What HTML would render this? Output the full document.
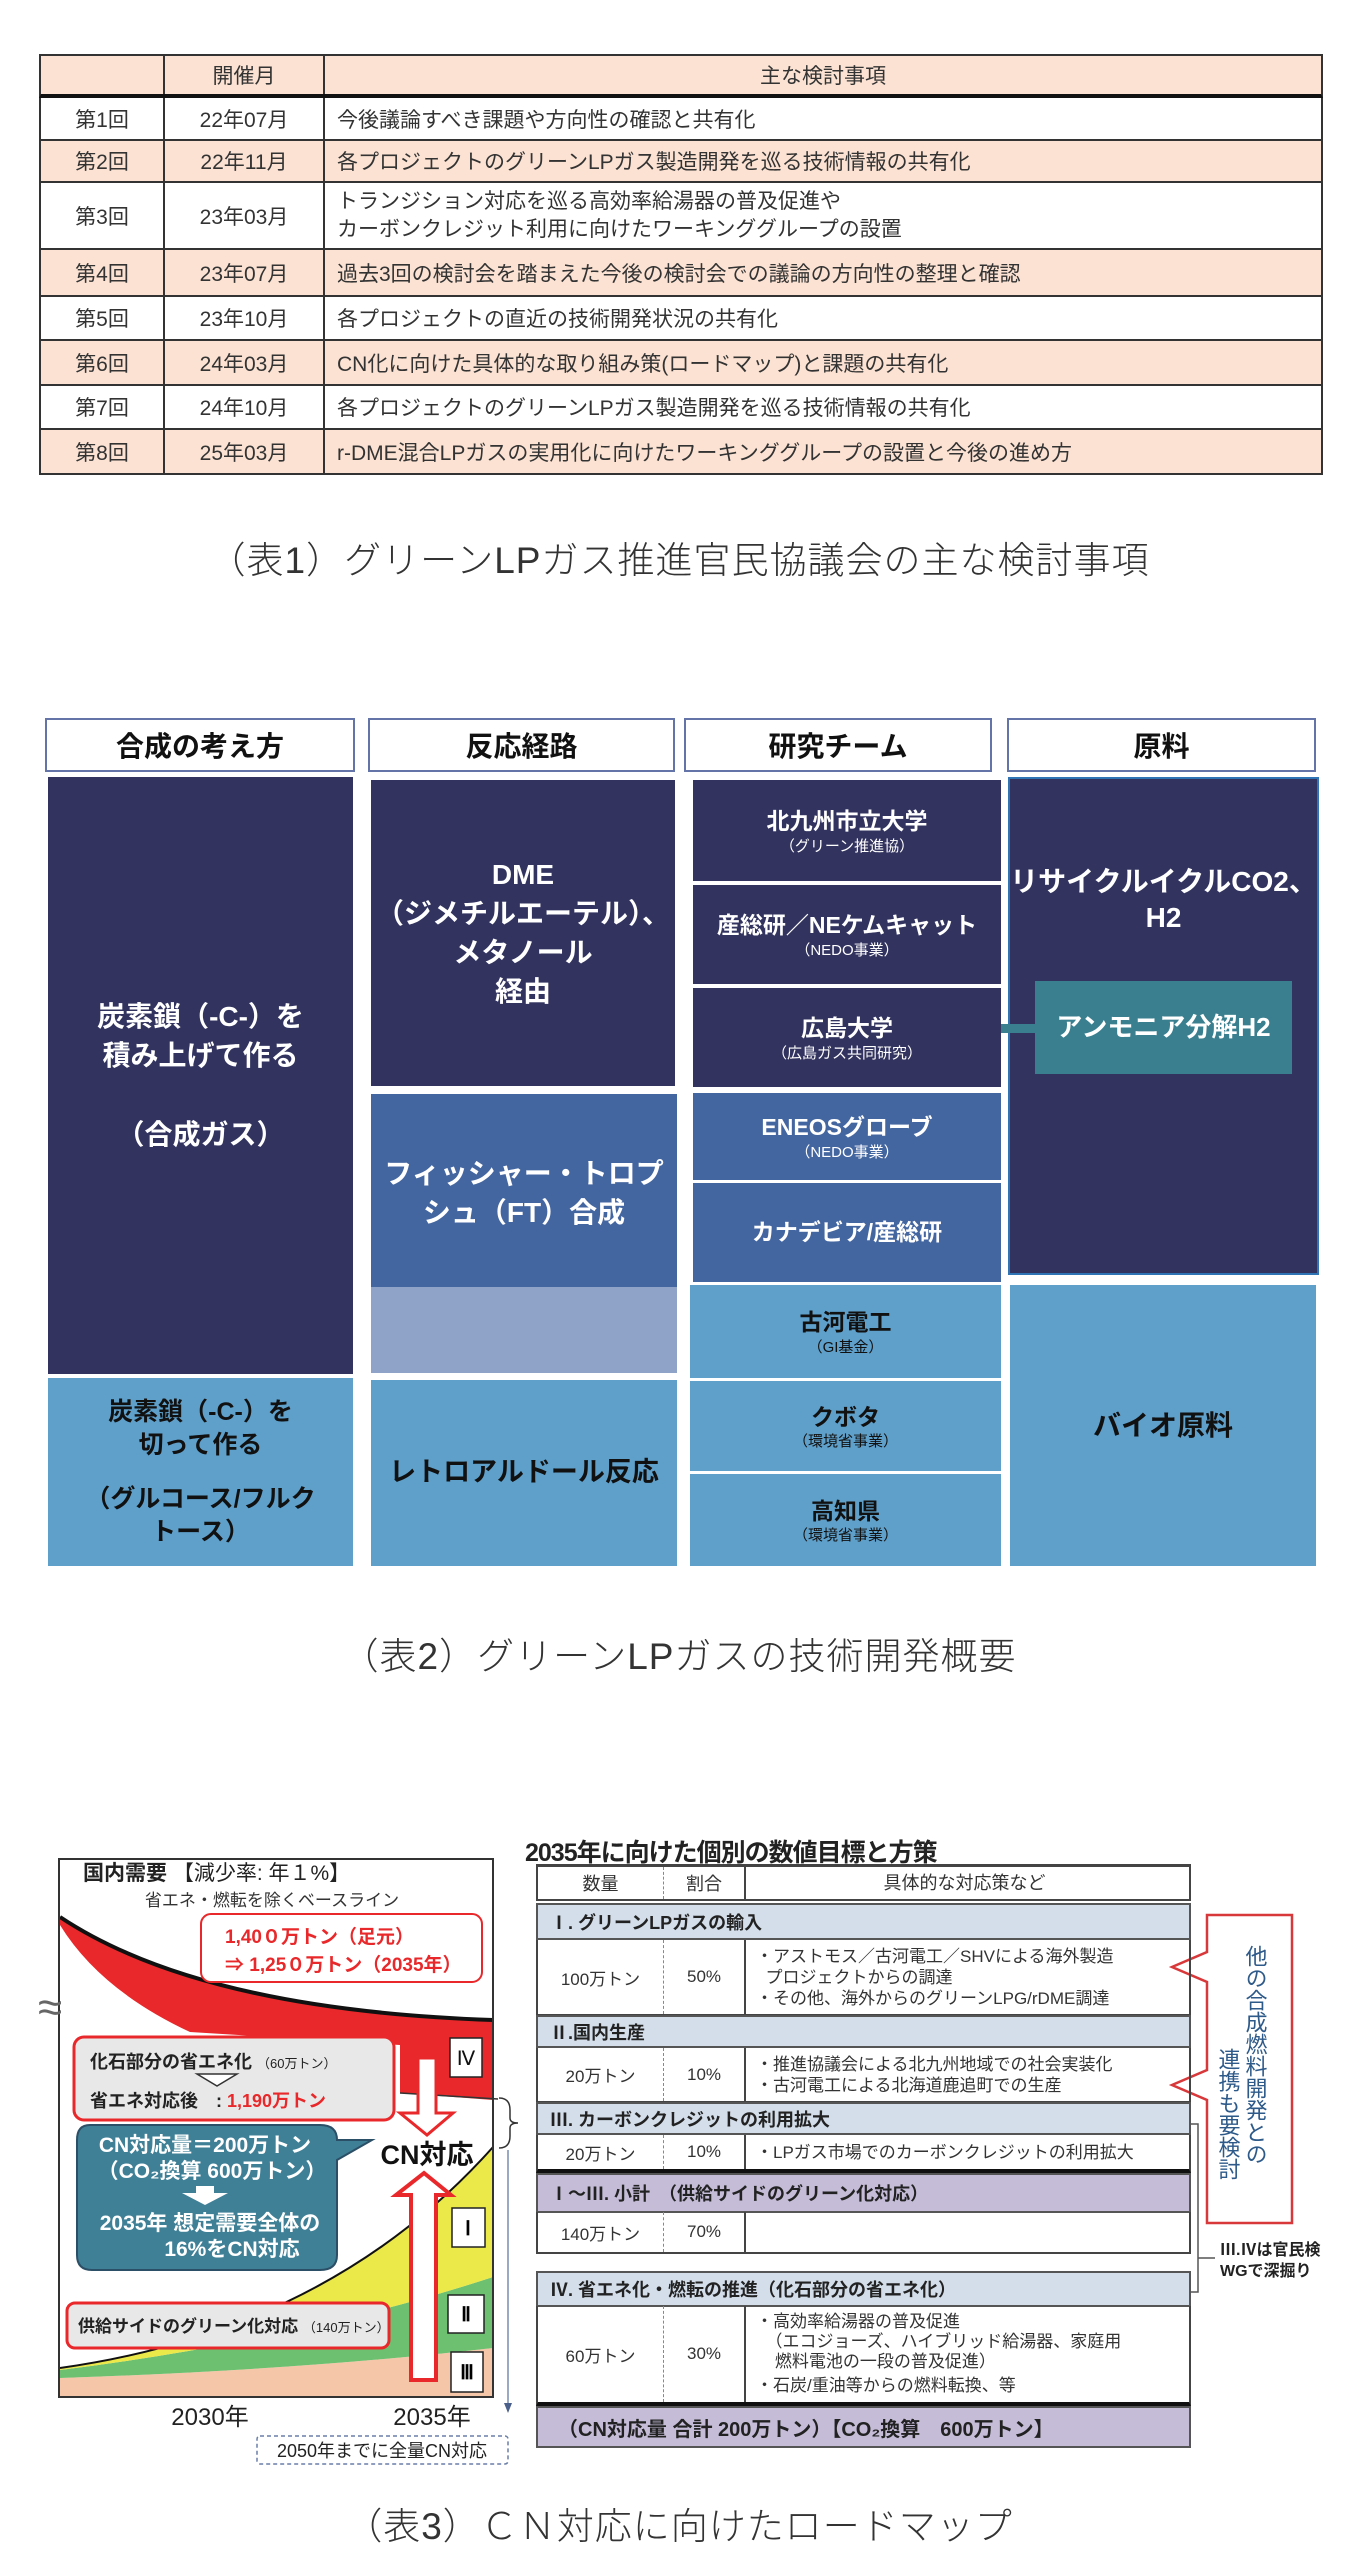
<!DOCTYPE html>
<html><head><meta charset="utf-8">
<style>
*{margin:0;padding:0;box-sizing:border-box}
body{width:1358px;height:2560px;background:#fff;position:relative;font-family:"Liberation Sans","Noto Sans CJK JP",sans-serif;color:#222;overflow:hidden}
.a{position:absolute}
.t1{position:absolute;left:39px;width:1284px;border-left:2px solid #333;border-right:2px solid #333;border-bottom:2px solid #333;font-size:21px;color:#333}
.t1 div{position:absolute;top:0;bottom:0;display:flex;align-items:center}
.cap{position:absolute;left:0;width:1358px;text-align:center;font-size:37px;color:#333;font-weight:300;letter-spacing:1px}
.h2{position:absolute;top:718px;height:54px;border:2px solid #6474a8;background:#fff;font-weight:bold;font-size:28px;display:flex;align-items:center;justify-content:center;color:#111}
.nv{background:#32335f;color:#fff}
.md{background:#4466a0;color:#fff}
.lb{background:#5fa0cb;color:#111}
.b{font-weight:bold}
.box{position:absolute;display:flex;flex-direction:column;align-items:center;justify-content:center;text-align:center;font-weight:bold;line-height:1.4}
.sm{font-size:15px;font-weight:normal;line-height:1.2}
.r3{position:absolute;left:536px;width:655px;border-left:2px solid #444;border-right:2px solid #444;border-bottom:2px solid #444;font-size:17px;color:#333}
.r3 .q{position:absolute;left:0;width:126px;top:0;bottom:0;display:flex;align-items:center;justify-content:center;border-right:1px dashed #888}
.r3 .p{position:absolute;left:126px;width:82px;top:0;bottom:0;display:flex;align-items:center;justify-content:center;border-right:2px solid #444}
.r3 .d{position:absolute;left:218px;right:6px;top:0;bottom:0;display:flex;flex-direction:column;justify-content:center;line-height:21px}
.sec{position:absolute;left:536px;width:655px;background:#d3deea;border:2px solid #555;font-weight:bold;font-size:18px;padding-left:12px;display:flex;align-items:center;color:#222}
</style></head><body>

<!-- TABLE 1 -->
<div class="t1" style="top:54px;height:44px;background:#fbe2d3;border-top:2px solid #333;border-bottom:4px solid #111">
<div style="left:0;width:124px;border-right:2px solid #333"></div>
<div style="left:124px;width:160px;border-right:2px solid #333;justify-content:center">開催月</div>
<div style="left:284px;right:0;justify-content:center">主な検討事項</div>
</div>
<div class="t1" style="top:98px;height:43px;background:#fff"><div style="left:0;width:124px;border-right:2px solid #333;justify-content:center">第1回</div><div style="left:124px;width:160px;border-right:2px solid #333;justify-content:center">22年07月</div><div style="left:296px">今後議論すべき課題や方向性の確認と共有化</div></div>
<div class="t1" style="top:141px;height:42px;background:#fbe2d3"><div style="left:0;width:124px;border-right:2px solid #333;justify-content:center">第2回</div><div style="left:124px;width:160px;border-right:2px solid #333;justify-content:center">22年11月</div><div style="left:296px">各プロジェクトのグリーンLPガス製造開発を巡る技術情報の共有化</div></div>
<div class="t1" style="top:183px;height:67px;background:#fff"><div style="left:0;width:124px;border-right:2px solid #333;justify-content:center">第3回</div><div style="left:124px;width:160px;border-right:2px solid #333;justify-content:center">23年03月</div><div style="left:296px;line-height:28px">トランジション対応を巡る高効率給湯器の普及促進や<br>カーボンクレジット利用に向けたワーキンググループの設置</div></div>
<div class="t1" style="top:250px;height:47px;background:#fbe2d3"><div style="left:0;width:124px;border-right:2px solid #333;justify-content:center">第4回</div><div style="left:124px;width:160px;border-right:2px solid #333;justify-content:center">23年07月</div><div style="left:296px">過去3回の検討会を踏まえた今後の検討会での議論の方向性の整理と確認</div></div>
<div class="t1" style="top:297px;height:44px;background:#fff"><div style="left:0;width:124px;border-right:2px solid #333;justify-content:center">第5回</div><div style="left:124px;width:160px;border-right:2px solid #333;justify-content:center">23年10月</div><div style="left:296px">各プロジェクトの直近の技術開発状況の共有化</div></div>
<div class="t1" style="top:341px;height:45px;background:#fbe2d3"><div style="left:0;width:124px;border-right:2px solid #333;justify-content:center">第6回</div><div style="left:124px;width:160px;border-right:2px solid #333;justify-content:center">24年03月</div><div style="left:296px">CN化に向けた具体的な取り組み策(ロードマップ)と課題の共有化</div></div>
<div class="t1" style="top:386px;height:44px;background:#fff"><div style="left:0;width:124px;border-right:2px solid #333;justify-content:center">第7回</div><div style="left:124px;width:160px;border-right:2px solid #333;justify-content:center">24年10月</div><div style="left:296px">各プロジェクトのグリーンLPガス製造開発を巡る技術情報の共有化</div></div>
<div class="t1" style="top:430px;height:45px;background:#fbe2d3"><div style="left:0;width:124px;border-right:2px solid #333;justify-content:center">第8回</div><div style="left:124px;width:160px;border-right:2px solid #333;justify-content:center">25年03月</div><div style="left:296px">r-DME混合LPガスの実用化に向けたワーキンググループの設置と今後の進め方</div></div>

<div class="cap" style="top:530px">（表1）グリーンLPガス推進官民協議会の主な検討事項</div>

<!-- TABLE 2 -->
<div class="h2" style="left:45px;width:310px">合成の考え方</div>
<div class="h2" style="left:368px;width:307px">反応経路</div>
<div class="h2" style="left:684px;width:308px">研究チーム</div>
<div class="h2" style="left:1007px;width:309px">原料</div>

<div class="box nv" style="left:48px;top:777px;width:305px;height:597px;font-size:28px">炭素鎖（-C-）を<br>積み上げて作る<br><br>（合成ガス）</div>
<div class="box lb" style="left:48px;top:1378px;width:305px;height:188px;font-size:25px;line-height:1.3">炭素鎖（-C-）を<br>切って作る<br><span style="display:block;height:22px"></span>（グルコース/フルク<br>トース）</div>

<div class="box nv" style="left:371px;top:780px;width:304px;height:306px;font-size:28px;line-height:1.4">DME<br>（ジメチルエーテル）、<br>メタノール<br>経由</div>
<div class="a" style="left:371px;top:1094px;width:306px;height:193px;background:#4466a0"></div>
<div class="a" style="left:371px;top:1287px;width:306px;height:86px;background:#8fa3c8"></div>
<div class="box" style="left:371px;top:1094px;width:306px;height:240px;font-size:28px;color:#fff;justify-content:flex-start;padding-top:60px">フィッシャー・トロプ<br>シュ（FT）合成</div>
<div class="box lb" style="left:371px;top:1380px;width:306px;height:186px;font-size:27px">レトロアルドール反応</div>

<div class="box nv" style="left:693px;top:780px;width:308px;height:101px;font-size:23px">北九州市立大学<span class="sm">（グリーン推進協）</span></div>
<div class="box nv" style="left:693px;top:885px;width:308px;height:99px;font-size:23px">産総研／NEケムキャット<span class="sm">（NEDO事業）</span></div>
<div class="box nv" style="left:693px;top:988px;width:308px;height:99px;font-size:23px">広島大学<span class="sm">（広島ガス共同研究）</span></div>
<div class="box md" style="left:693px;top:1093px;width:308px;height:87px;font-size:23px">ENEOSグローブ<span class="sm">（NEDO事業）</span></div>
<div class="box md" style="left:693px;top:1183px;width:308px;height:99px;font-size:23px">カナデビア/産総研</div>
<div class="box lb" style="left:690px;top:1285px;width:311px;height:93px;font-size:23px">古河電工<span class="sm">（GI基金）</span></div>
<div class="box lb" style="left:690px;top:1381px;width:311px;height:90px;font-size:23px">クボタ<span class="sm">（環境省事業）</span></div>
<div class="box lb" style="left:690px;top:1474px;width:311px;height:92px;font-size:23px">高知県<span class="sm">（環境省事業）</span></div>

<div class="a nv" style="left:1008px;top:777px;width:311px;height:498px;border:2px solid #2f75b5"></div>
<div class="box" style="left:1008px;top:850px;width:311px;height:100px;font-size:28px;color:#fff;line-height:1.3">リサイクルイクルCO2、<br>H2</div>
<div class="a" style="left:1001px;top:1024px;width:36px;height:9px;background:#3a7f8f"></div>
<div class="box" style="left:1035px;top:981px;width:257px;height:93px;background:#3a7f8f;color:#fff;font-size:26px">アンモニア分解H2</div>
<div class="box lb" style="left:1010px;top:1285px;width:306px;height:281px;font-size:28px">バイオ原料</div>

<div class="cap" style="top:1626px">（表2）グリーンLPガスの技術開発概要</div>

<!-- TABLE 3 chart -->
<svg class="a" style="left:0;top:0" width="1358" height="2560" font-family="Liberation Sans, Noto Sans CJK JP, sans-serif">
<rect x="59" y="1859" width="434" height="538" fill="#fff"/>
<path d="M60,2378 Q300,2370 493,2348 L493,2397 L60,2397 Z" fill="#f5c6a8"/>
<path d="M60,2370 Q300,2340 493,2277 L493,2348 Q300,2370 60,2378 Z" fill="#6cc070"/>
<path d="M60,2368 Q330,2330 493,2147 L493,2277 Q300,2340 60,2370 Z" fill="#ebe84a"/>
<path d="M60,2368 Q330,2330 493,2147" fill="none" stroke="#111" stroke-width="2"/>
<path d="M60,1917 Q200,2010 493,2020 L493,2100 L400,2093 L400,2045 L190,2032 Q100,1990 60,1925 Z" fill="#e8282a"/>
<path d="M60,1917 Q200,2010 493,2020" fill="none" stroke="#111" stroke-width="4"/>
<line x1="400" y1="2093" x2="498" y2="2099" stroke="#333" stroke-width="1.5"/>
<rect x="59" y="1859" width="434" height="538" fill="none" stroke="#333" stroke-width="2"/>
<text x="83" y="1880" font-size="21" font-weight="bold" fill="#222">国内需要 <tspan font-weight="normal">【減少率: 年１%】</tspan></text>
<text x="272" y="1906" font-size="17" text-anchor="middle" fill="#333">省エネ・燃転を除くベースライン</text>
<rect x="201" y="1914" width="281" height="68" rx="10" fill="#fff" stroke="#e8282a" stroke-width="2"/>
<text x="225" y="1943" font-size="19" font-weight="bold" fill="#e8282a">1,40０万トン（足元）</text>
<text x="225" y="1971" font-size="19" font-weight="bold" fill="#e8282a">⇒ 1,25０万トン（2035年）</text>
<text x="38" y="2022" font-size="44" fill="#666">≈</text>
<rect x="74" y="2037" width="320" height="83" rx="10" fill="#e8e8e8" stroke="#e8282a" stroke-width="3"/>
<text x="90" y="2068" font-size="18" font-weight="bold" fill="#222">化石部分の省エネ化 <tspan font-size="13" font-weight="normal">（60万トン）</tspan></text>
<path d="M197,2074 h40 l-20,12 z" fill="#fff" stroke="#333" stroke-width="1.5"/>
<text x="90" y="2107" font-size="18" font-weight="bold" fill="#222">省エネ対応後　: <tspan fill="#e8282a">1,190万トン</tspan></text>
<rect x="450" y="2038" width="32" height="39" fill="#fff" stroke="#222" stroke-width="1.5"/>
<text x="466" y="2065" font-size="20" font-family="Liberation Serif, serif" text-anchor="middle" fill="#111">Ⅳ</text>
<path d="M418,2058 L436,2058 L436,2113 L453,2113 L427,2135 L400,2113 L418,2113 Z" fill="#fff" stroke="#e8282a" stroke-width="3"/>
<text x="427" y="2164" font-size="27" font-weight="bold" text-anchor="middle" fill="#111">CN対応</text>
<path d="M424,2173 L451,2195 L436,2195 L436,2380 L411,2380 L411,2195 L396,2195 Z" fill="#fff" stroke="#e8282a" stroke-width="4"/>
<path d="M90,2125 L320,2125 Q337,2125 337,2140 L372,2140 L337,2160 L337,2255 Q337,2270 320,2270 L92,2270 Q77,2270 77,2255 L77,2140 Q77,2125 90,2125 Z" fill="#3f8097" stroke="#2b4f66" stroke-width="2"/>
<text x="205" y="2152" font-size="21" font-weight="bold" text-anchor="middle" fill="#fff">CN対応量＝200万トン</text>
<text x="212" y="2178" font-size="21" font-weight="bold" text-anchor="middle" fill="#fff">（CO₂換算 600万トン）</text>
<path d="M196,2186 L214,2186 L214,2193 L228,2193 L205,2205 L182,2193 L196,2193 Z" fill="#fff"/>
<text x="210" y="2230" font-size="21" font-weight="bold" text-anchor="middle" fill="#fff">2035年 想定需要全体の</text>
<text x="232" y="2256" font-size="21" font-weight="bold" text-anchor="middle" fill="#fff">16%をCN対応</text>
<rect x="452" y="2208" width="33" height="39" fill="#fff" stroke="#222" stroke-width="1.5"/>
<text x="468" y="2235" font-size="20" font-family="Liberation Serif, serif" font-weight="bold" text-anchor="middle">Ⅰ</text>
<rect x="448" y="2295" width="36" height="38" fill="#fff" stroke="#222" stroke-width="1.5"/>
<text x="466" y="2321" font-size="20" font-family="Liberation Serif, serif" font-weight="bold" text-anchor="middle">Ⅱ</text>
<rect x="451" y="2352" width="32" height="40" fill="#fff" stroke="#222" stroke-width="1.5"/>
<text x="467" y="2379" font-size="20" font-family="Liberation Serif, serif" font-weight="bold" text-anchor="middle">Ⅲ</text>
<rect x="67" y="2303" width="322" height="45" rx="8" fill="#e8e8e8" stroke="#e8282a" stroke-width="3"/>
<text x="78" y="2332" font-size="17" font-weight="bold" fill="#222">供給サイドのグリーン化対応 <tspan font-size="13" font-weight="normal">（140万トン）</tspan></text>
<text x="210" y="2425" font-size="24" text-anchor="middle" fill="#222">2030年</text>
<text x="432" y="2425" font-size="24" text-anchor="middle" fill="#222">2035年</text>
<line x1="508" y1="2150" x2="508" y2="2408" stroke="#7a8db0" stroke-width="1.5"/>
<path d="M504,2403 L512,2403 L508,2413 Z" fill="#4a5f8a"/>
<rect x="257" y="2436" width="251" height="28" rx="3" fill="#fff" stroke="#6a7fa8" stroke-width="1.5" stroke-dasharray="4,3"/>
<text x="382" y="2457" font-size="18" text-anchor="middle" fill="#222">2050年までに全量CN対応</text>
<path d="M499,2098 Q510,2098 510,2110 L510,2118 Q510,2123 518,2123 Q510,2123 510,2128 L510,2136 Q510,2148 499,2148" fill="none" stroke="#333" stroke-width="1.5"/>
<path d="M1207,1915 L1292,1915 L1292,2223 L1207,2223 L1207,2100 L1172,2085 L1207,2070 L1207,1982 L1172,1967 L1207,1952 Z" fill="#fff" stroke="#d8383a" stroke-width="2.5"/>
<text font-size="22" fill="#2e5a8a" style="writing-mode:vertical-rl" x="1255" y="1945">他の合成燃料開発との</text>
<text font-size="22" fill="#2e5a8a" style="writing-mode:vertical-rl" x="1228" y="2048">連携も要検討</text>
<path d="M1191,2124 L1198,2124 L1198,2292 L1191,2292 M1198,2258 L1215,2258" fill="none" stroke="#555" stroke-width="1.5"/>
<text x="1220" y="2255" font-size="16" font-weight="bold" fill="#222">Ⅲ.Ⅳは官民検</text>
<text x="1220" y="2276" font-size="16" font-weight="bold" fill="#222">WGで深掘り</text>
</svg>

<div class="a b" style="left:525px;top:1833px;font-size:25px;color:#222;letter-spacing:-1px">2035年に向けた個別の数値目標と方策</div>
<div class="r3" style="top:1864px;height:37px;border-top:3px solid #444;font-size:18px"><div class="q">数量</div><div class="p">割合</div><div class="d" style="align-items:center;left:208px">具体的な対応策など</div></div>
<div class="sec" style="top:1903px;height:37px">Ⅰ. グリーンLPガスの輸入</div>
<div class="r3" style="top:1940px;height:76px"><div class="q">100万トン</div><div class="p">50%</div><div class="d"><div>・アストモス／古河電工／SHVによる海外製造</div><div>&nbsp;&nbsp;プロジェクトからの調達</div><div>・その他、海外からのグリーンLPG/rDME調達</div></div></div>
<div class="sec" style="top:2015px;height:33px">Ⅱ.国内生産</div>
<div class="r3" style="top:2048px;height:55px"><div class="q">20万トン</div><div class="p">10%</div><div class="d"><div>・推進協議会による北九州地域での社会実装化</div><div>・古河電工による北海道鹿追町での生産</div></div></div>
<div class="sec" style="top:2102px;height:33px">Ⅲ. カーボンクレジットの利用拡大</div>
<div class="r3" style="top:2135px;height:38px;border-bottom:4px solid #111"><div class="q">20万トン</div><div class="p">10%</div><div class="d"><div>・LPガス市場でのカーボンクレジットの利用拡大</div></div></div>
<div class="sec" style="top:2173px;height:40px;background:#c5bcd8">Ⅰ～Ⅲ. 小計　（供給サイドのグリーン化対応）</div>
<div class="r3" style="top:2212px;height:42px"><div class="q">140万トン</div><div class="p">70%</div></div>
<div class="sec" style="top:2271px;height:36px">Ⅳ. 省エネ化・燃転の推進（化石部分の省エネ化）</div>
<div class="r3" style="top:2306px;height:100px;border-bottom:4px solid #111"><div class="q">60万トン</div><div class="p">30%</div><div class="d" style="line-height:20px"><div>・高効率給湯器の普及促進</div><div>&nbsp;&nbsp;（エコジョーズ、ハイブリッド給湯器、家庭用</div><div>&nbsp;&nbsp;&nbsp;&nbsp;燃料電池の一段の普及促進）</div><div style="margin-top:4px">・石炭/重油等からの燃料転換、等</div></div></div>
<div class="sec" style="top:2406px;height:42px;background:#c5bcd8;font-size:20px;padding-left:20px">（CN対応量 合計 200万トン）【CO₂換算　600万トン】</div>

<div class="cap" style="top:2496px">（表3）ＣＮ対応に向けたロードマップ</div>
</body></html>
